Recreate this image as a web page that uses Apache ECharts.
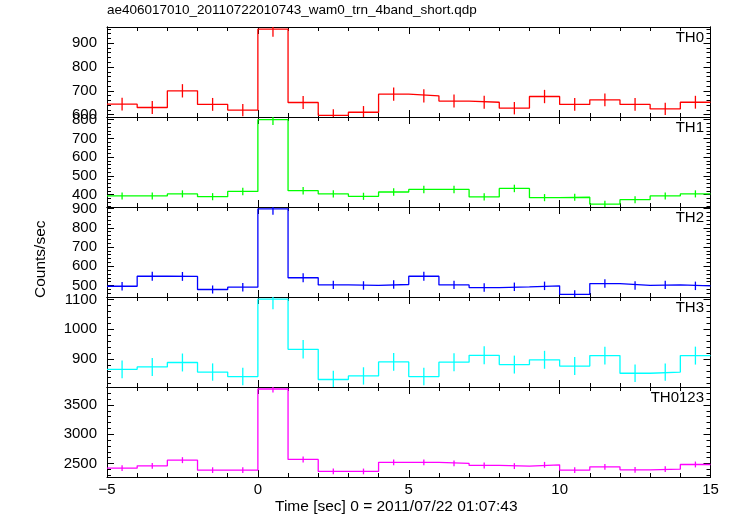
<!DOCTYPE html>
<html><head><meta charset="utf-8">
<script src="https://cdn.jsdelivr.net/npm/echarts@6/dist/echarts.min.js"></script>
<style>html,body{margin:0;padding:0;background:#fff}#c{width:733px;height:516px}</style>
</head><body><div id="c"></div>
<script>
// ---- data ----
const titleText = 'ae406017010_20110722010743_wam0_trn_4band_short.qdp';
const xAxisTitle = 'Time [sec] 0 = 2011/07/22 01:07:43';
const yAxisTitle = 'Counts/sec';
const binCenters = [-4.5,-3.5,-2.5,-1.5,-0.5,0.5,1.5,2.5,3.5,4.5,5.5,6.5,7.5,8.5,9.5,10.5,11.5,12.5,13.5,14.5];
const binWidth = 1;
const panelNames = ['TH0','TH1','TH2','TH3','TH0123'];

const th0 =    [644,630,700,643,619,959,651,597,610,686,679,657,652,627,676,643,662,643,624,652];
const th0Err = [27,27,28,27,26,32,27,26,26,28,28,27,27,26,28,27,27,27,26,27];
const th1 =    [393,393,404,389,417,800,421,404,391,414,428,428,388,433,384,386,349,373,393,404];
const th1Err = [19,19,19,19,20,28,20,19,19,20,20,20,19,20,19,19,18,19,19,19];
const th2 =    [496,548,547,479,491,898,540,503,500,505,548,503,489,493,498,454,510,500,503,498];
const th2Err = [22,23,23,21,22,30,23,22,22,22,23,22,22,22,22,21,22,22,22,22];
const th3 =    [866,874,889,857,842,1101,933,832,844,891,842,890,913,882,898,877,912,853,857,912];
const th3Err = [30,30,30,29,29,34,31,29,29,30,29,30,30,30,30,30,30,29,29,30];
const th0123 =    [2421,2461,2558,2387,2387,3774,2570,2365,2365,2520,2521,2502,2467,2456,2478,2387,2444,2393,2404,2484];
const th0123Err = [49,50,51,49,49,62,51,49,49,50,50,50,50,50,50,49,50,49,49,50];

const xTickLabels = [-5,0,5,10,15];
const yTickLabels = [[600,700,800,900],[400,500,600,700,800],[500,600,700,800,900],[900,1000,1100],[2500,3000,3500]];
const yRanges = [[590,968],[334,814],[440,908],[807,1108],[2270,3808]];
const yMinorStep = [20,20,20,20,100];

const seriesValues = [th0,th1,th2,th3,th0123];
const seriesErrors = [th0Err,th1Err,th2Err,th3Err,th0123Err];
const colors = ['#ff0000','#00ff00','#0000ff','#00ffff','#ff00ff'];

// ---- layout ----
const FONT = 'Liberation Sans, Helvetica, Arial, sans-serif';
const gridLeft = 107, gridRight = 22.5, gridTop0 = 27, gridH = 90;
const W = 733;

const grids = [], xAxes = [], yAxes = [], series = [], graphics = [];
const fmtMinus = v => String(v).replace('-', '\u2212');

for (let i = 0; i < 5; i++) {
  const top = gridTop0 + i * gridH;
  grids.push({left: gridLeft, right: gridRight, top: top, height: gridH, containLabel: false});
  const lineStyle = {color: '#000', width: 1};
  const xBase = {
    type: 'value', gridIndex: i, min: -5, max: 15, interval: 5,
    splitLine: {show: false},
    axisLine: {show: true, onZero: false, lineStyle},
    axisTick: {show: true, inside: true, length: 7, lineStyle},
    minorTick: {show: true, splitNumber: 5, length: 4, lineStyle},
    minorSplitLine: {show: false}
  };
  xAxes.push(Object.assign({}, xBase, {
    position: 'bottom',
    axisLabel: {show: i === 4, color: '#000', fontSize: 15, fontFamily: FONT, margin: 5,
      formatter: v => xTickLabels.includes(v) ? fmtMinus(v) : ''}
  }));
  xAxes.push(Object.assign({}, xBase, {position: 'top', axisLabel: {show: false}}));

  const [ymin, ymax] = yRanges[i];
  const minorVals = [];
  const st = yMinorStep[i];
  for (let v = Math.ceil(ymin / st) * st; v <= ymax; v += st) minorVals.push(v);
  const majors = yTickLabels[i];
  const minorsOnly = minorVals.filter(v => !majors.includes(v));
  const yBase = {
    type: 'value', gridIndex: i, min: ymin, max: ymax,
    splitLine: {show: false},
    axisLine: {show: true, onZero: false, lineStyle}
  };
  // left major with labels
  yAxes.push(Object.assign({}, yBase, {
    position: 'left',
    axisTick: {show: true, inside: true, length: 7, lineStyle, customValues: majors},
    axisLabel: {show: true, color: '#000', fontSize: 15, fontFamily: FONT, margin: 10, customValues: majors,
      formatter: v => String(v)}
  }));
  // left minor
  yAxes.push(Object.assign({}, yBase, {
    position: 'left',
    axisTick: {show: true, inside: true, length: 4, lineStyle, customValues: minorsOnly},
    axisLabel: {show: false}
  }));
  // right major
  yAxes.push(Object.assign({}, yBase, {
    position: 'right',
    axisTick: {show: true, inside: true, length: 7, lineStyle, customValues: majors},
    axisLabel: {show: false}
  }));
  // right minor
  yAxes.push(Object.assign({}, yBase, {
    position: 'right',
    axisTick: {show: true, inside: true, length: 4, lineStyle, customValues: minorsOnly},
    axisLabel: {show: false}
  }));

  const vals = seriesValues[i], errs = seriesErrors[i], col = colors[i];
  const n = binCenters.length;
  const stepData = binCenters.map((c, k) => [c - binWidth / 2, vals[k]]);
  stepData.push([binCenters[n - 1] + binWidth / 2, vals[n - 1]]);
  series.push({
    type: 'line', step: 'end', xAxisIndex: 2 * i, yAxisIndex: 4 * i,
    data: stepData, symbol: 'none', showSymbol: false, clip: true,
    lineStyle: {color: col, width: 1.3}, silent: true, z: 3
  });
  series.push({
    type: 'custom', xAxisIndex: 2 * i, yAxisIndex: 4 * i, clip: true, silent: true, z: 3,
    data: binCenters.map((c, k) => [c, vals[k] - errs[k], vals[k] + errs[k]]),
    encode: {x: 0, y: [1, 2]},
    renderItem: (params, api) => {
      const p1 = api.coord([api.value(0), api.value(1)]);
      const p2 = api.coord([api.value(0), api.value(2)]);
      return {type: 'line', shape: {x1: p1[0], y1: p1[1], x2: p2[0], y2: p2[1]},
        style: {stroke: col, lineWidth: 1.3}};
    }
  });

  graphics.push({
    type: 'text', right: W - 704, top: top + 3,
    style: {text: panelNames[i], fill: '#000', font: '15px ' + FONT, textAlign: 'right'}
  });
}

graphics.push({type: 'text', left: gridLeft, top: 3,
  style: {text: titleText, fill: '#000', font: '13.5px ' + FONT}});
graphics.push({type: 'text', left: 275, top: 499,
  style: {text: xAxisTitle, fill: '#000', font: '15.5px ' + FONT}});
graphics.push({type: 'text', x: 33, y: 298, rotation: Math.PI / 2,
  style: {text: yAxisTitle, fill: '#000', font: '15.5px ' + FONT, textVerticalAlign: 'top'}});

const chart = echarts.init(document.getElementById('c'), null, {renderer: 'canvas'});
chart.setOption({
  animation: false,
  backgroundColor: '#fff',
  grid: grids, xAxis: xAxes, yAxis: yAxes, series: series, graphic: graphics
});
</script>
</body></html>
